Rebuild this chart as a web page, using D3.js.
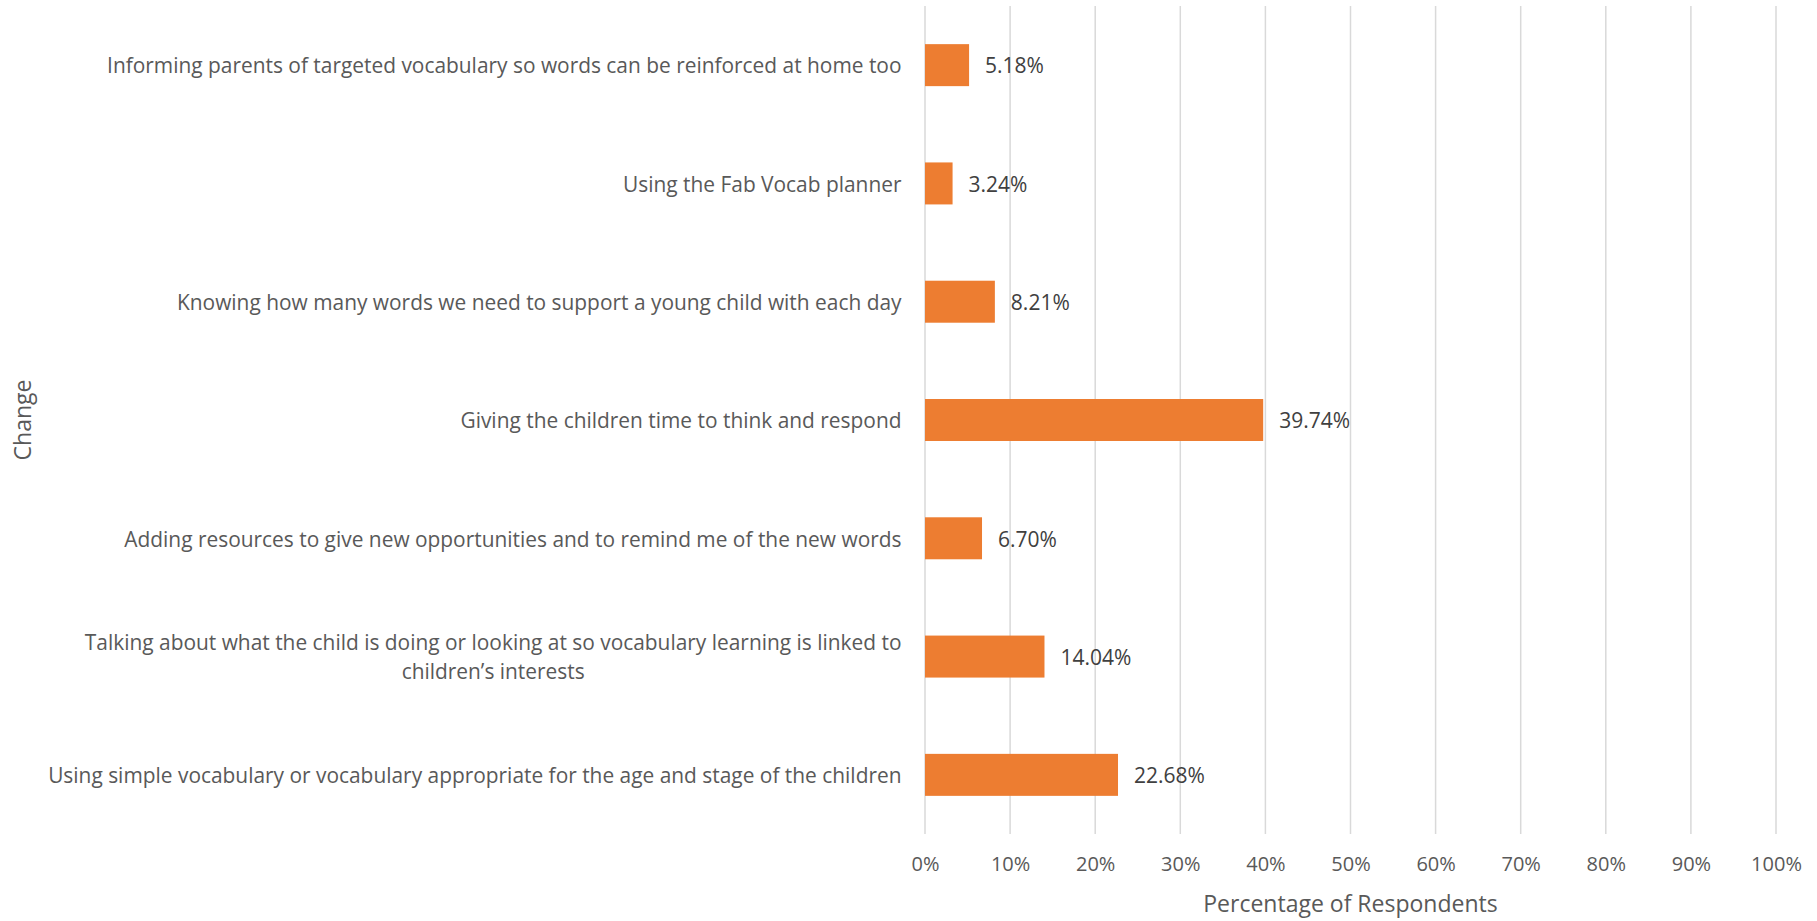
<!DOCTYPE html>
<html>
<head>
<meta charset="utf-8">
<script src="https://cdn.jsdelivr.net/npm/d3@7"></script>
<style>
  html, body { margin: 0; padding: 0; background: #ffffff; }
  svg { display: block; }
  .cat { font-family: "Open Sans", sans-serif; font-size: 20.9px; fill: #595959; }
  .tick-label { font-family: "Open Sans", sans-serif; font-size: 20px; fill: #595959; }
  .val { font-family: "Open Sans", sans-serif; font-size: 21px; fill: #404040; }
  .title { font-family: "Open Sans", sans-serif; font-size: 23px; fill: #595959; }
</style>
</head>
<body>
<svg id="chart" width="1817" height="921"></svg>
<script>
// Survey answers, top to bottom; a line break inside a label is written as "\n".
const categories = [
  "Informing parents of targeted vocabulary so words can be reinforced at home too",
  "Using the Fab Vocab planner",
  "Knowing how many words we need to support a young child with each day",
  "Giving the children time to think and respond",
  "Adding resources to give new opportunities and to remind me of the new words",
  "Talking about what the child is doing or looking at so vocabulary learning is linked to\nchildren\u2019s interests",
  "Using simple vocabulary or vocabulary appropriate for the age and stage of the children"
];
const values = [0.0518, 0.0324, 0.0821, 0.3974, 0.0670, 0.1404, 0.2268];
const tickValues = [0, 0.1, 0.2, 0.3, 0.4, 0.5, 0.6, 0.7, 0.8, 0.9, 1.0];
const xTitle = "Percentage of Respondents";
const yTitle = "Change";

const svg = d3.select("#chart");
const plot = { left: 925, right: 1776, top: 6, bottom: 834 };

const x = d3.scaleLinear().domain([0, 1]).range([plot.left, plot.right]);
const y = d3.scaleBand().domain(categories).range([plot.top, plot.bottom])
  .paddingInner(0.645).paddingOuter(0.3225);

// Vertical gridlines
svg.append("g").selectAll("line").data(tickValues).join("line")
  .attr("x1", d => x(d)).attr("x2", d => x(d))
  .attr("y1", plot.top).attr("y2", plot.bottom)
  .attr("stroke", "#d9d9d9").attr("stroke-width", 1.5);

// X axis tick labels
const xAxis = d3.axisBottom(x).tickValues(tickValues).tickFormat(d3.format(".0%")).tickSize(0).tickPadding(0);
const gx = svg.append("g").attr("transform", `translate(0,${plot.bottom + 23})`).call(xAxis);
gx.select(".domain").remove();
gx.selectAll("text").attr("class", "tick-label").attr("fill", null).attr("font-size", null).attr("font-family", null);

// Bars
svg.append("g").selectAll("rect").data(categories).join("rect")
  .attr("x", x(0))
  .attr("y", d => y(d))
  .attr("width", (d, i) => x(values[i]) - x(0))
  .attr("height", y.bandwidth())
  .attr("fill", "#ED7D31");

// Value labels
svg.append("g").selectAll("text").data(categories).join("text")
  .attr("class", "val")
  .attr("x", (d, i) => x(values[i]) + 16)
  .attr("y", d => y(d) + y.bandwidth() / 2 + 1)
  .attr("dy", "0.35em")
  .text((d, i) => d3.format(".2%")(values[i]));

// Category labels: right-aligned block, wrapped lines centred within the block
const labelRight = plot.left - 23.5;
const lineH = 29;
svg.append("g").selectAll("g").data(categories).join("g").each(function(d) {
  const g = d3.select(this);
  const lines = d.split("\n");
  const cy = y(d) + y.bandwidth() / 2 + 1;
  const t = g.append("text").attr("class", "cat");
  lines.forEach((ln, k) => {
    t.append("tspan").attr("y", cy + (k - (lines.length - 1) / 2) * lineH).attr("dy", "0.35em").text(ln);
  });
  if (lines.length === 1) {
    t.attr("text-anchor", "end").selectAll("tspan").attr("x", labelRight);
  } else {
    let maxW = 0;
    t.selectAll("tspan").each(function() { maxW = Math.max(maxW, this.getComputedTextLength()); });
    t.attr("text-anchor", "middle").selectAll("tspan").attr("x", labelRight - maxW / 2);
  }
});

// Axis titles
svg.append("text").attr("class", "title")
  .attr("x", (plot.left + plot.right) / 2).attr("y", 904).attr("dy", "0.35em")
  .attr("text-anchor", "middle").text(xTitle);
svg.append("text").attr("class", "title")
  .attr("transform", `translate(23,${(plot.top + plot.bottom) / 2}) rotate(-90)`)
  .attr("dy", "0.35em").attr("text-anchor", "middle").text(yTitle);
</script>
</body>
</html>
